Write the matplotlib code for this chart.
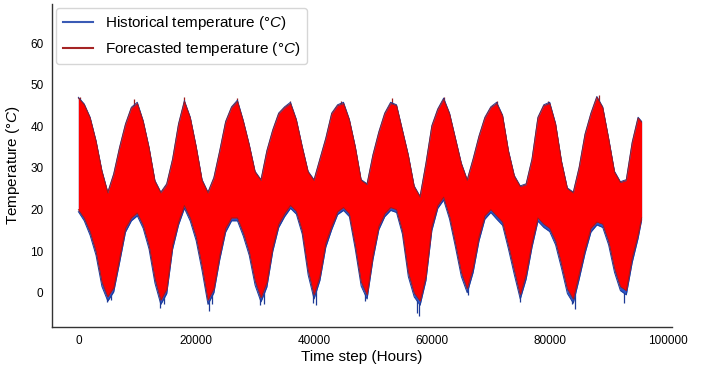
import numpy as np
import matplotlib.pyplot as plt
from matplotlib.lines import Line2D

plt.rcParams['font.family'] = ['Liberation Sans', 'DejaVu Sans']
plt.rcParams['mathtext.fontset'] = 'custom'
plt.rcParams['mathtext.rm'] = 'Liberation Sans'
plt.rcParams['mathtext.it'] = 'Liberation Sans:italic'

hours = list(range(0, 96000, 1000)) + [95600]

# forecasted temperature: upper / lower envelope (deg C)
fc_hi = [46.8, 45.2, 42.0, 36.4, 29.2, 24.0, 28.4, 34.8, 40.4, 44.4,
         45.5, 41.2, 34.8, 26.8, 24.0, 26.0, 32.0, 40.4, 46.0, 42.0,
         35.0, 27.0, 24.0, 27.5, 34.0, 41.0, 44.5, 46.0, 41.2, 35.5,
         29.0, 27.0, 34.0, 39.0, 43.0, 44.5, 45.5, 41.5, 35.0, 29.0,
         27.0, 32.0, 37.0, 43.0, 45.0, 45.5, 41.5, 35.0, 27.0, 26.0,
         33.0, 38.5, 43.0, 45.5, 45.0, 39.0, 33.0, 25.5, 23.0, 31.0,
         40.0, 44.0, 46.5, 43.0, 37.0, 31.0, 27.0, 32.0, 37.5, 42.0,
         44.5, 45.5, 42.5, 34.0, 28.0, 25.5, 26.0, 32.0, 42.0, 45.0,
         45.5, 40.5, 31.5, 25.0, 24.0, 30.0, 38.0, 43.0, 47.0, 44.5,
         37.0, 29.0, 26.5, 27.0, 36.0, 42.0, 41.0]
fc_lo = [20.0, 18.0, 14.7, 10.0, 2.7, -1.0, 1.2, 8.3, 15.5, 18.0,
         19.2, 16.3, 11.5, 3.5, -1.8, 0.8, 11.5, 17.0, 21.0, 18.0,
         13.5, 6.5, -1.8, 1.0, 9.0, 15.5, 18.0, 18.0, 14.5, 10.0,
         3.0, -1.2, 2.5, 11.0, 16.5, 19.0, 21.0, 19.6, 15.0, 5.5,
         -0.5, 4.0, 12.0, 16.0, 19.5, 20.5, 19.0, 11.5, 2.7, -0.5,
         9.0, 16.0, 19.0, 20.5, 20.0, 15.0, 5.0, 0.0, -2.0, 4.0,
         16.0, 21.0, 23.0, 18.5, 12.0, 5.0, 1.0, 6.0, 13.5, 18.5,
         20.0, 18.5, 17.0, 11.5, 5.5, -0.5, 4.5, 12.0, 18.0, 16.5,
         15.5, 12.5, 7.0, 1.0, -1.5, 4.5, 10.5, 15.5, 17.0, 16.5,
         12.5, 6.0, 1.5, 0.5, 8.5, 14.0, 18.0]

# historical temperature: upper / lower envelope (deg C)
hist_hi = [47.0, 45.4, 42.2, 36.6, 29.4, 24.2, 28.6, 35.0, 40.6, 44.6,
           45.8, 41.4, 35.0, 27.0, 24.2, 26.2, 32.2, 40.6, 46.2, 42.2,
           35.2, 27.2, 24.2, 27.7, 34.2, 41.2, 44.7, 46.3, 41.4, 35.7,
           29.2, 27.2, 34.2, 39.2, 43.2, 44.7, 45.8, 41.7, 35.2, 29.2,
           27.2, 32.2, 37.2, 43.2, 45.2, 45.8, 41.7, 35.2, 27.2, 26.2,
           33.2, 38.7, 43.2, 45.8, 45.2, 39.2, 33.2, 25.7, 23.2, 31.2,
           40.2, 44.2, 46.8, 43.2, 37.2, 31.2, 27.2, 32.2, 37.7, 42.2,
           44.7, 45.8, 42.7, 34.2, 28.2, 25.7, 26.2, 32.2, 42.2, 45.2,
           45.8, 40.7, 31.7, 25.2, 24.2, 30.2, 38.2, 43.2, 47.2, 44.7,
           37.2, 29.2, 26.7, 27.2, 36.2, 42.2, 41.2]
hist_lo = [19.5, 17.3, 13.8, 9.0, 1.5, -2.0, 0.2, 7.3, 14.6, 17.3,
           18.5, 15.5, 10.5, 2.3, -2.8, -0.2, 10.5, 16.3, 20.3, 17.2,
           12.5, 5.3, -2.8, 0.0, 8.0, 14.6, 17.3, 17.3, 13.6, 9.0,
           1.8, -2.2, 1.4, 10.0, 15.7, 18.3, 20.3, 18.9, 14.1, 4.3,
           -1.5, 3.0, 11.0, 15.2, 18.8, 19.8, 18.3, 10.5, 1.6, -1.5,
           8.0, 15.2, 18.3, 19.8, 19.3, 14.1, 3.9, -1.0, -3.0, 3.0,
           15.0, 20.3, 22.3, 17.7, 11.0, 3.9, 0.0, 4.9, 12.5, 17.7,
           19.3, 17.7, 16.2, 10.5, 4.3, -1.5, 3.3, 11.0, 17.2, 15.7,
           14.7, 11.5, 5.9, -0.2, -2.5, 3.3, 9.5, 14.6, 16.3, 15.7,
           11.5, 4.9, 0.5, -0.5, 7.3, 13.1, 17.5]

# single-hour extremes that stick out of the band
spike_hours_low = [4800, 5600, 13800, 14500, 22200, 22700, 30800, 31500,
                   39800, 40400, 48700, 57500, 57900, 66200, 75000, 83800,
                   84300, 92600]
spike_vals_low = [-2.3, -1.8, -3.7, -2.6, -4.5, -2.6, -3.0, -2.8,
                  -2.5, -2.9, -1.9, -4.8, -5.5, -0.6, -2.2, -2.8,
                  -4.0, -2.5]
spike_hours_high = [300, 9400, 17900, 26900, 35900, 44600, 53300, 62000,
                    71000, 79700, 88400]
spike_vals_high = [47.0, 46.6, 47.0, 46.8, 46.2, 46.0, 46.8, 47.0,
                   46.0, 46.0, 47.6]

blue = '#2b55c8'
blue_edge = '#1d3a96'
red = '#ff0000'
red_edge = '#9e1b1b'

fig = plt.figure(figsize=(7.1, 3.71), dpi=100)
ax = fig.add_axes([0.073, 0.119, 0.873, 0.871])

# spikes go underneath the bands so only the part sticking out shows
ax.vlines(spike_hours_low, spike_vals_low, 10, color=blue_edge, lw=0.9, zorder=0.5)
ax.vlines(spike_hours_high, 35, spike_vals_high, color=red_edge, lw=0.9, zorder=0.5)

ax.fill_between(hours, hist_lo, hist_hi, color=blue, lw=0, zorder=1)
ax.plot(hours, hist_hi, color=blue_edge, lw=0.7, zorder=1.1)
ax.plot(hours, hist_lo, color=blue_edge, lw=0.7, zorder=1.1)
ax.fill_between(hours, fc_lo, fc_hi, color=red, lw=0, zorder=1.2)
ax.plot(hours, fc_hi, color=red_edge, lw=0.6, zorder=1.3)
ax.plot(hours, fc_lo, color=red_edge, lw=0.6, zorder=1.3)

ax.set_xlim(-4500, 100700)
ax.set_ylim(-8.2, 69.5)
ax.set_xticks([0, 20000, 40000, 60000, 80000, 100000])
ax.set_yticks([0, 10, 20, 30, 40, 50, 60])
ax.tick_params(length=0, labelsize=8.5, pad=6)
for s in ['top', 'right']:
    ax.spines[s].set_visible(False)
for s in ['left', 'bottom']:
    ax.spines[s].set_color('#333333')
    ax.spines[s].set_linewidth(1.0)

ax.set_xlabel('Time step (Hours)', fontsize=11, labelpad=2)
ax.set_ylabel('Temperature (°$C$)', fontsize=11, labelpad=6)

handles = [Line2D([], [], color='#3a5bb5', lw=1.5),
           Line2D([], [], color='#a52424', lw=1.5)]
ax.legend(handles, ['Historical temperature (°$C$)', 'Forecasted temperature (°$C$)'],
          loc='upper left', fontsize=11, frameon=True, borderaxespad=0.3,
          handlelength=2.0)

plt.savefig('out.png', dpi=100)
